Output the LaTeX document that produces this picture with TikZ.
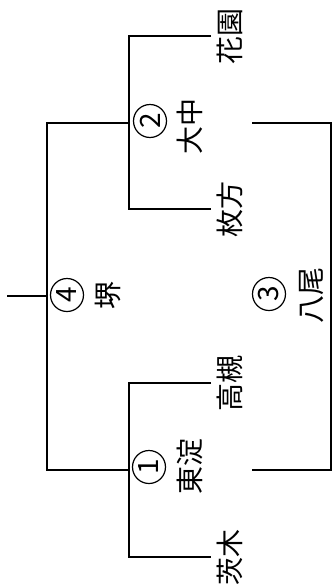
\documentclass[tikz,border=0pt]{standalone}
\usepackage{fontspec}
\newfontfamily\jpfont{Noto Sans CJK JP}
\begin{document}
\begin{tikzpicture}
  [x=1pt,y=-1pt,line width=1.8pt,every node/.style={rotate=90,inner sep=0pt,font=\jpfont\fontsize{28}{28}\selectfont}]
  \tikzstyle{team} = [anchor=north,inner sep=4pt,text height=24.6pt,text depth=3.4pt]
  \tikzstyle{winner} = [text height=24.6pt,text depth=3.4pt]
  \tikzstyle{gameno} = [circle,draw,line width=1.2pt,minimum size=33pt,font=\jpfont\fontsize{28}{28}\selectfont]
  \useasboundingbox (0,0) rectangle (333,587);

  \node[team] (hanazono) at (211,36) {花園};
  \node[team] (hirakata) at (211,209) {枚方};
  \node[team] (takatsuki) at (211,383) {高槻};
  \node[team] (ibaraki) at (211,557) {茨木};

  \node[gameno] (g1) at (149,467) {1};
  \node[gameno] (g2) at (150,121) {2};
  \node[gameno] (g3) at (269,294) {3};
  \node[gameno] (g4) at (67,295) {4};

  \node[winner] (w1) at (190,466) {東淀};
  \node[winner] (w2) at (190,126) {大中};
  \node[winner] (w3) at (311,295) {八尾};
  \node[winner] (w4) at (108,295) {堺};

  \coordinate (m1) at (129,470);
  \coordinate (m2) at (129,123);
  \coordinate (m3) at (331,296);
  \coordinate (m4) at (47,296);
  \coordinate (t3) at (252,123);
  \coordinate (b3) at (252,470);
  \coordinate (final) at (7,296);

  \draw (hanazono.north) -| (m2) |- (hirakata.north);
  \draw (takatsuki.north) -| (m1) |- (ibaraki.north);
  \draw (m2) -| (m4) |- (m1);
  \draw (t3) -| (m3) |- (b3);
  \draw (m4) -- (final);

\end{tikzpicture}
\end{document}
